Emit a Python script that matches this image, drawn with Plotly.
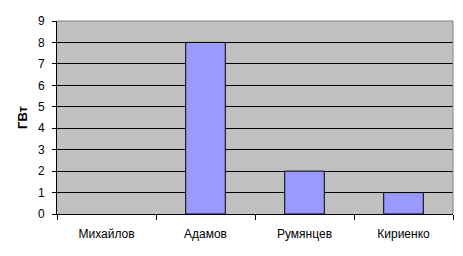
import plotly.graph_objects as go

categories = ["Михайлов", "Адамов", "Румянцев", "Кириенко"]
values = [0, 8, 2, 1]
y_ticks = [0, 1, 2, 3, 4, 5, 6, 7, 8, 9]
y_title = "ГВт"

fig = go.Figure()
fig.add_trace(go.Bar(
    x=categories, y=values,
    marker=dict(color="#9999FF",
                line=dict(color="black", width=[0 if v == 0 else 1 for v in values])),
    width=0.4,
))

font = dict(family="Liberation Sans, Arial, sans-serif", size=11, color="black")

fig.update_layout(
    width=463, height=256,
    margin=dict(l=57, r=10, t=21, b=42),
    paper_bgcolor="white",
    plot_bgcolor="#C0C0C0",
    showlegend=False,
    bargap=0.6,
    font=font,
    xaxis=dict(
        showgrid=False, showline=True, linecolor="black", linewidth=1,
        ticks="outside", tickson="boundaries", ticklen=5, tickcolor="black",
        tickfont=dict(size=12), fixedrange=True, ticklabelstandoff=9,
    ),
    yaxis=dict(
        range=[0, 9], tickvals=y_ticks, showgrid=True, gridcolor="black", gridwidth=1,
        zeroline=False, showline=True, linecolor="black", linewidth=1,
        ticks="outside", ticklen=4, tickcolor="black",
        tickfont=dict(size=12), ticklabelstandoff=5,
        title=dict(text="<b>" + y_title + "</b>", font=dict(size=13), standoff=7),
    ),
    shapes=[
        dict(type="line", xref="paper", yref="paper", x0=0, x1=1, y0=1, y1=1,
             line=dict(color="#808080", width=1), layer="above"),
        dict(type="line", xref="paper", yref="paper", x0=1, x1=1, y0=0, y1=1,
             line=dict(color="#808080", width=1), layer="above"),
    ],
)

fig.write_html("out.html")
